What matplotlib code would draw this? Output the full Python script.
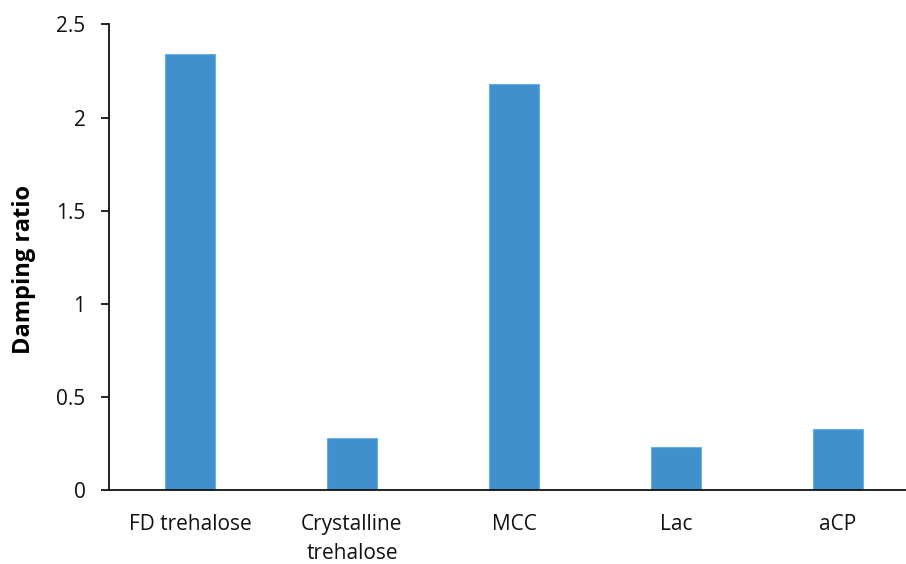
import matplotlib
matplotlib.use("Agg")
import matplotlib.pyplot as plt

categories = ["FD trehalose", "Crystalline\ntrehalose", "MCC", "Lac", "aCP"]
values = [2.34, 0.28, 2.18, 0.23, 0.33]
yticks = [0, 0.5, 1, 1.5, 2, 2.5]
ytick_labels = ["0", "0.5", "1", "1.5", "2", "2.5"]

plt.rcParams['font.family'] = ['Open Sans', 'DejaVu Sans']

fig = plt.figure(figsize=(9.06, 5.64), dpi=100)
W, H = 906, 564
left, right, top, bottom = 109, 919, 24.5, 490
ax = fig.add_axes([left / W, 1 - bottom / H, (right - left) / W, (bottom - top) / H])

x = range(len(categories))
ax.bar(x, values, width=0.31, color="#4190CE", edgecolor="#6AAEE6", linewidth=0.8, zorder=2)

ax.set_xlim(-0.5, len(categories) - 0.5)
ax.set_ylim(0, 2.5)
ax.set_yticks(yticks)
ax.set_yticklabels(ytick_labels, fontsize=15, color="#111111")
ax.set_xticks(list(x))
ax.set_xticklabels(categories, fontsize=15, color="#111111", linespacing=1.5)
ax.tick_params(axis='x', length=0, pad=17)
ax.tick_params(axis='y', length=6, width=1.2, direction='out', pad=11)

for s in ['top', 'right']:
    ax.spines[s].set_visible(False)
for s in ['left', 'bottom']:
    ax.spines[s].set_linewidth(1.3)
    ax.spines[s].set_color("#111111")

ax.set_ylabel("Damping ratio", fontsize=17, fontweight='bold')
ax.yaxis.set_label_coords((24 - left) / (right - left), (bottom - 269) / (bottom - top))
ax.yaxis.label.set_verticalalignment('center')
fig.savefig("out.png", dpi=100)
